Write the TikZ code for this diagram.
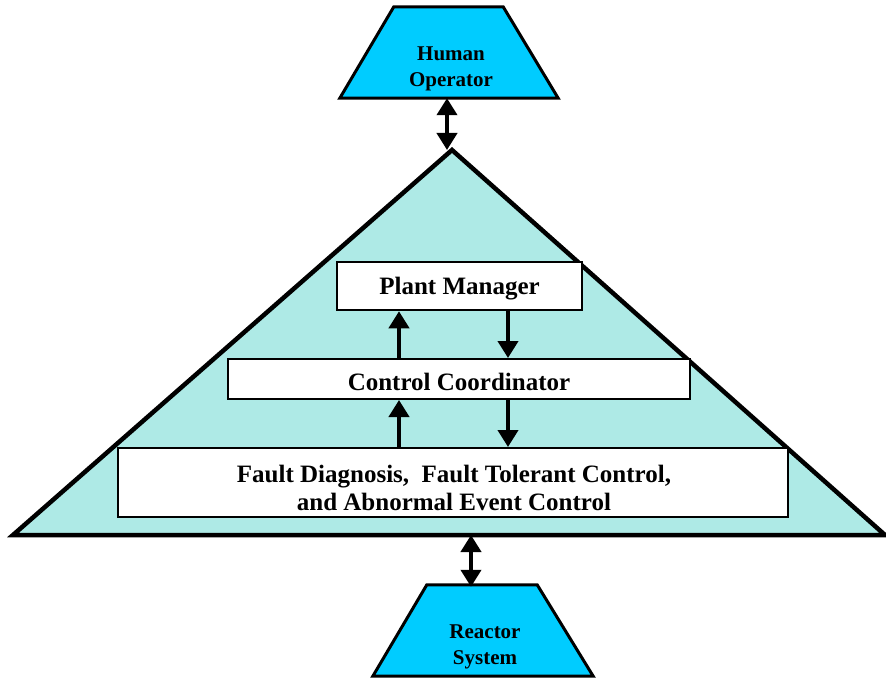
\documentclass[tikz,border=0pt]{standalone}
\usepackage{fontspec}
\setmainfont{Liberation Serif}
\usetikzlibrary{calc,arrows.meta}
\definecolor{trapfill}{HTML}{00CCFF}
\definecolor{trifill}{HTML}{AEEAE6}
\begin{document}
\begin{tikzpicture}[x=1pt,y=-1pt,
  boxstyle/.style={draw=black, line width=2.5pt, fill=white, inner sep=0pt},
  boxlbl/.style={align=center, inner sep=0pt, font=\fontsize{25}{28}\selectfont\bfseries},
  traplbl/.style={align=center, inner sep=0pt, font=\fontsize{21}{26}\selectfont\bfseries},
  trapframe/.style={minimum width=218pt, minimum height=91pt, inner sep=0pt},
  arr/.style={line width=4pt, -{Triangle[width=20pt,length=17pt]}},
  darr/.style={line width=4pt, {Triangle[width=20pt,length=17pt]}-{Triangle[width=20pt,length=17pt]}}
]
\useasboundingbox (0,0) rectangle (886,679);

% triangle
\coordinate (apex) at (452,150);
\coordinate (bl) at (13,535);
\coordinate (br) at (885,535);
\draw[fill=trifill, line width=4.5pt, line join=miter] (bl) -- (apex) -- (br) -- cycle;

% trapezoids
\node[trapframe] (ho) at (449,52.5) {};
\draw[fill=trapfill, line width=3pt, line join=miter]
  (ho.south west) -- (ho.south east) -- ($(ho.north east)+(-55,0)$) -- ($(ho.north west)+(54,0)$) -- cycle;
\node[traplbl] (holbl) at ($(ho.center)+(2,16)$) {Human\\Operator};

\node[trapframe, minimum width=220pt] (rs) at (483,630.5) {};
\draw[fill=trapfill, line width=3pt, line join=miter]
  (rs.south west) -- (rs.south east) -- ($(rs.north east)+(-56,0)$) -- ($(rs.north west)+(54,0)$) -- cycle;
\node[traplbl] (rslbl) at ($(rs.center)+(2,16)$) {Reactor\\System};

% boxes
\node[boxstyle, minimum width=245pt, minimum height=48pt] (pm) at (459.5,286) {};
\node[boxlbl] (pmlbl) at ($(pm.center)+(0,3)$) {Plant Manager};
\node[boxstyle, minimum width=462pt, minimum height=40pt, line width=2pt] (cc) at (459,379) {};
\node[boxlbl] (cclbl) at ($(cc.center)+(0,3)$) {Control Coordinator};
\node[boxstyle, minimum width=670pt, minimum height=69pt, line width=2pt] (fd) at (453,482.5) {};
\node[boxlbl] (fdlbl) at (454,488)
  {Fault Diagnosis,\ \ Fault Tolerant Control,\\and Abnormal Event Control};

% arrows between boxes
\coordinate (ux) at (399,0);
\coordinate (dx) at (508,0);
\draw[arr] (cc.north -| ux) -- (pm.south -| ux);
\draw[arr] (pm.south -| dx) -- (cc.north -| dx);
\draw[arr] (fd.north -| ux) -- (cc.south -| ux);
\draw[arr] (cc.south -| dx) -- (fd.north -| dx);

% double arrows
\coordinate (topx) at (447,0);
\draw[darr] (ho.south -| topx) -- (apex -| topx);
\coordinate (botx) at (471,0);
\draw[darr] (bl -| botx) -- ($(rs.north -| botx)+(0,2)$);
\end{tikzpicture}
\end{document}
